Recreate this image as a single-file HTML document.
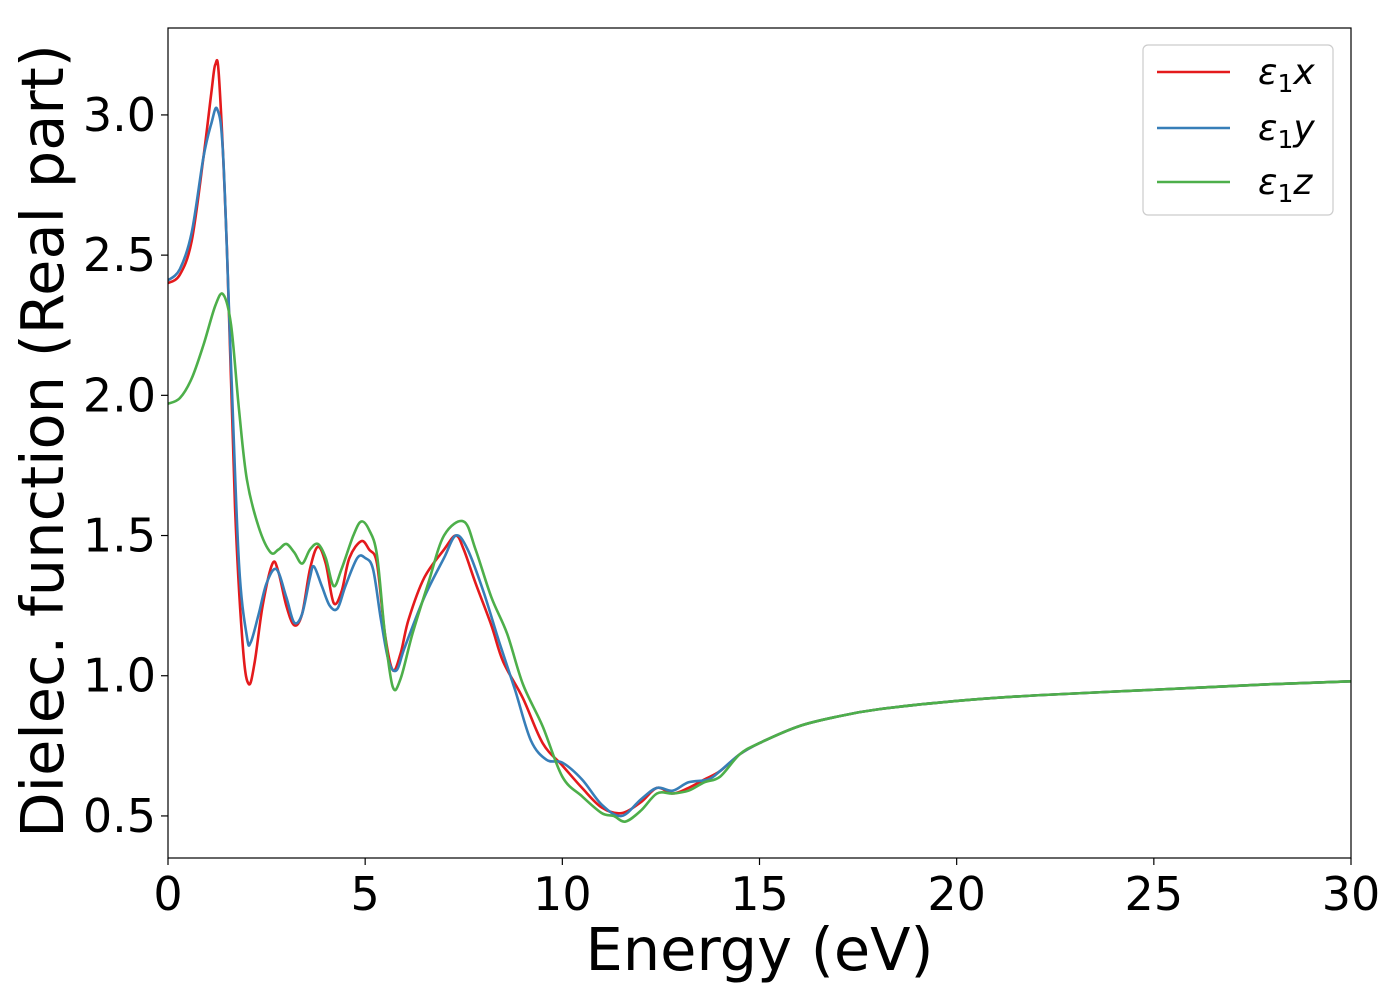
<!DOCTYPE html>
<html><head><meta charset="utf-8"><style>
body{margin:0;background:#fff}
svg{display:block;font-family:"DejaVu Sans","Liberation Sans",sans-serif}
</style></head><body>
<svg id="chart" width="1400" height="1000" xmlns="http://www.w3.org/2000/svg">
<g id="plot"></g>
</svg>
<script>
const xTicks=[0,5,10,15,20,25,30];
const yTicks=[0.5,1.0,1.5,2.0,2.5,3.0];
const seriesNames=["ε1x","ε1y","ε1z"];
const redE=[0,0.3,0.6,0.9,1.1,1.2,1.3,1.5,1.7,1.9,2.05,2.2,2.4,2.65,2.8,3.0,3.2,3.4,3.6,3.8,4.0,4.2,4.4,4.6,4.9,5.1,5.3,5.5,5.7,5.9,6.1,6.5,7.0,7.3,7.5,7.8,8.2,8.5,9.0,9.5,10.0,10.5,11.0,11.5,12.0,12.4,12.8,13.2,13.6,14.0,14.5,15,16,17,18,20,22,25,28,30];
const redV=[2.40,2.43,2.55,2.85,3.08,3.18,3.12,2.5,1.6,1.1,0.97,1.05,1.25,1.40,1.37,1.25,1.18,1.22,1.38,1.46,1.40,1.26,1.30,1.42,1.48,1.45,1.40,1.15,1.02,1.08,1.20,1.35,1.45,1.50,1.45,1.33,1.18,1.05,0.92,0.76,0.68,0.60,0.53,0.51,0.55,0.60,0.58,0.60,0.63,0.66,0.72,0.76,0.82,0.855,0.88,0.91,0.93,0.95,0.97,0.98];
const blueE=[0,0.3,0.6,0.9,1.1,1.25,1.4,1.6,1.8,2.0,2.1,2.3,2.5,2.75,3.0,3.2,3.4,3.6,3.7,3.9,4.1,4.3,4.5,4.8,5.0,5.2,5.4,5.6,5.8,6.0,6.5,7.0,7.3,7.6,8.0,8.4,8.8,9.2,9.6,10.0,10.5,11.0,11.5,12.0,12.4,12.8,13.2,13.7,14.0,14.5,15,16,17,18,20,22,25,28,30];
const blueV=[2.41,2.45,2.58,2.85,2.97,3.02,2.85,2.1,1.4,1.14,1.12,1.22,1.33,1.38,1.28,1.19,1.22,1.35,1.39,1.32,1.25,1.24,1.32,1.42,1.42,1.38,1.2,1.05,1.02,1.1,1.28,1.42,1.50,1.45,1.30,1.12,0.95,0.77,0.70,0.69,0.63,0.54,0.50,0.56,0.60,0.59,0.62,0.63,0.66,0.72,0.76,0.82,0.855,0.88,0.91,0.93,0.95,0.97,0.98];
const greenE=[0,0.3,0.6,0.9,1.2,1.4,1.6,1.8,2.0,2.3,2.6,2.8,3.0,3.2,3.4,3.6,3.8,4.0,4.2,4.4,4.7,4.9,5.1,5.3,5.5,5.7,5.9,6.2,6.6,7.0,7.5,7.8,8.2,8.6,9.0,9.5,10.0,10.5,11.0,11.3,11.6,12.0,12.4,12.8,13.2,13.6,14.0,14.5,15,16,17,18,20,22,25,28,30];
const greenV=[1.97,1.99,2.06,2.18,2.32,2.36,2.25,1.95,1.7,1.53,1.44,1.45,1.47,1.44,1.40,1.45,1.47,1.42,1.32,1.38,1.50,1.55,1.52,1.43,1.15,0.96,0.99,1.15,1.33,1.50,1.55,1.45,1.28,1.15,0.97,0.82,0.64,0.57,0.51,0.50,0.48,0.52,0.58,0.58,0.59,0.62,0.64,0.72,0.76,0.82,0.855,0.88,0.91,0.93,0.95,0.97,0.98];

const L=168,R=1351,T=28,B=858,xMin=0,xMax=30,yMin=0.35,yMax=3.31;
const sx=v=>L+(v-xMin)/(xMax-xMin)*(R-L);
const sy=v=>B-(v-yMin)/(yMax-yMin)*(B-T);
const NS="http://www.w3.org/2000/svg";
const svg=document.getElementById('chart');
function mk(tag,attrs,parent){const e=document.createElementNS(NS,tag);for(const k in attrs)e.setAttribute(k,attrs[k]);(parent||svg).appendChild(e);return e;}
const defs=mk('defs',{});const cp=mk('clipPath',{id:'clip'},defs);mk('rect',{x:L,y:T,width:R-L,height:B-T},cp);
function pathFor(E,V){const p=E.map((e,i)=>[sx(e),sy(V[i])]);let d=`M${p[0][0]},${p[0][1]}`;
for(let i=0;i<p.length-1;i++){const p0=p[i-1]||p[i],p1=p[i],p2=p[i+1],p3=p[i+2]||p2;
const c1=[p1[0]+(p2[0]-p0[0])/6,p1[1]+(p2[1]-p0[1])/6],c2=[p2[0]-(p3[0]-p1[0])/6,p2[1]-(p3[1]-p1[1])/6];
d+=`C${c1[0]},${c1[1]} ${c2[0]},${c2[1]} ${p2[0]},${p2[1]}`;}return d;}
const colors=["#e41a1c","#377eb8","#4daf4a"];
const data=[[redE,redV],[blueE,blueV],[greenE,greenV]];
const g=document.getElementById('plot');
data.forEach((s,i)=>{const p=mk('path',{d:pathFor(s[0],s[1]),fill:'none',stroke:colors[i],'stroke-width':2.6,'clip-path':'url(#clip)'},g);

});
const frame=mk('rect',{x:L,y:T,width:R-L,height:B-T,fill:'none',stroke:'#000','stroke-width':1.2});


xTicks.forEach(t=>{mk('line',{x1:sx(t),x2:sx(t),y1:B,y2:B+7,stroke:'#000','stroke-width':1.2});
const tx=mk('text',{x:sx(t),y:B+52,'font-size':46,'text-anchor':'middle'});tx.textContent=t;

});
yTicks.forEach(t=>{mk('line',{x1:L-7,x2:L,y1:sy(t),y2:sy(t),stroke:'#000','stroke-width':1.2});
const tx=mk('text',{x:L-12,y:sy(t)+16,'font-size':46,'text-anchor':'end'});tx.textContent=t.toFixed(1);

});
const xt=mk('text',{x:(L+R)/2,y:970,'font-size':59,'text-anchor':'middle'});xt.textContent='Energy (eV)';


const yt=mk('text',{x:0,y:0,'font-size':59,'text-anchor':'middle',transform:`translate(63,${(T+B)/2-2}) rotate(-90)`});yt.textContent='Dielec. function (Real part)';


const lg=mk('g',{});


mk('rect',{x:1143,y:45,width:190,height:170,rx:5,fill:'#fff',stroke:'#ccc','stroke-width':1.2},lg);
const labs=[["x"],["y"],["z"]];
[72,128,182].forEach((y,i)=>{mk('line',{x1:1157,x2:1230,y1:y,y2:y,stroke:colors[i],'stroke-width':2.6},lg);
const t=mk('text',{x:1258,y:y+12,'font-size':36,'font-style':'italic'},lg);
t.innerHTML=`ε<tspan font-style="normal" font-size="25" dy="8">1</tspan><tspan dy="-8">${labs[i][0]}</tspan>`;

});
</script>
</body></html>
